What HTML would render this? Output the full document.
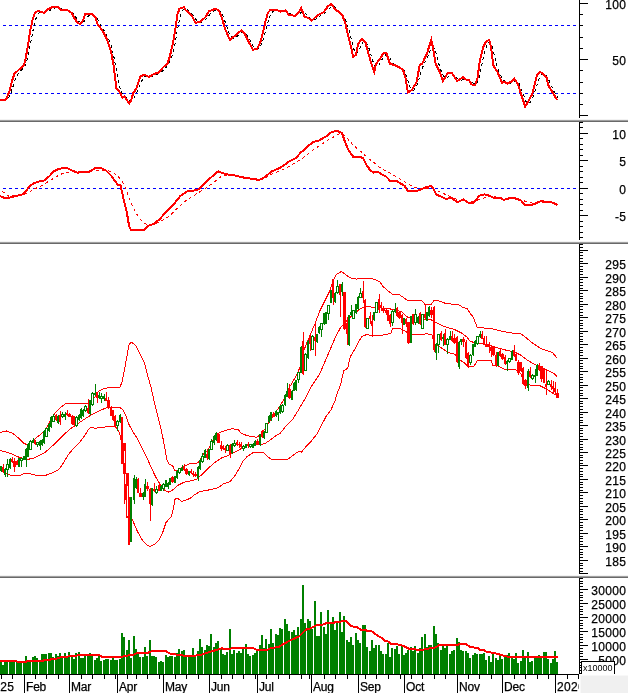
<!DOCTYPE html><html><head><meta charset="utf-8"><title>Chart</title><style>html,body{margin:0;padding:0;background:#fff;overflow:hidden}svg{display:block}</style></head><body><svg width="628" height="693" viewBox="0 0 628 693" shape-rendering="crispEdges" font-family="'Liberation Sans', Arial, sans-serif"><defs><clipPath id="cb"><rect x="0" y="675" width="579" height="18"/></clipPath></defs><rect width="628" height="693" fill="#fff"/><line x1="3" y1="25.5" x2="577" y2="25.5" stroke="#0000ff" stroke-width="1" stroke-dasharray="3 3"/>
<line x1="3" y1="93.5" x2="577" y2="93.5" stroke="#0000ff" stroke-width="1" stroke-dasharray="3 3"/>
<polyline points="3.4,100.2 5.7,100.2 8,98.7 10.3,94.7 12.6,87.8 14.8,80.7 17.1,75.2 19.4,71.8 21.7,69.8 24,67.6 26.3,62.7 28.6,54.1 30.9,41.6 33.2,29.5 35.5,19.8 37.8,14.3 40.1,12.1 42.3,12.2 44.6,12.7 46.9,12.2 49.2,10.9 51.5,9.2 53.8,8.2 56.1,7.7 58.4,7.7 60.7,8.5 63,9.5 65.3,10.2 67.6,10.5 69.8,11.2 72.1,12.5 74.4,15.1 76.7,18.4 79,21.5 81.3,23.1 83.6,22.1 85.9,19.1 88.2,16.2 90.5,14.8 92.8,14.9 95.1,15.8 97.3,19 99.6,23 101.9,27.3 104.2,30.8 106.5,34.6 108.8,39.5 111.1,45.5 113.4,54.2 115.7,66.7 118,79.4 120.3,88.9 122.5,94.1 124.8,96.4 127.1,98.8 129.4,100.6 131.7,101 134,98.2 136.3,93.4 138.6,88 140.9,82.7 143.2,78.3 145.5,76.1 147.8,76.1 150,76.5 152.3,76.4 154.6,75.5 156.9,74.4 159.2,73.4 161.5,71.9 163.8,69.8 166.1,67.4 168.4,64.6 170.7,60 173,52.8 175.3,42.4 177.5,29.5 179.8,18 182.1,10.7 184.4,8.7 186.7,9.5 189,11.1 191.3,13.6 193.6,16.3 195.9,19.6 198.2,21.8 200.5,22.6 202.8,21.5 205,20 207.3,17.5 209.6,14.6 211.9,12.1 214.2,10.6 216.5,10.1 218.8,10.2 221.1,12.4 223.4,17 225.7,23.5 228,30.1 230.2,35.6 232.5,38.1 234.8,38.2 237.1,36.4 239.4,34.4 241.7,32.7 244,32.5 246.3,34.1 248.6,37.8 250.9,42 253.2,46.2 255.5,48.8 257.7,49.3 260,47.1 262.3,42.3 264.6,34.9 266.9,26 269.2,18.1 271.5,13 273.8,10.9 276.1,10.4 278.4,10.6 280.7,11.2 283,11.6 285.2,11.5 287.5,12 289.8,13.3 292.1,14.9 294.4,15.8 296.7,15.7 299,14.5 301.3,12 303.6,12 305.9,13.8 308.2,17 310.5,18.7 312.7,19.6 315,19.5 317.3,18.1 319.6,16.2 321.9,14.6 324.2,13.4 326.5,11.4 328.8,9 331.1,6.6 333.4,6.1 335.7,7.5 338,9.8 340.2,11.9 342.5,13.9 344.8,17.5 347.1,23.5 349.4,31.9 351.7,41.1 354,49.5 356.3,53.6 358.6,51.4 360.9,46.1 363.2,41.7 365.4,41.3 367.7,44.8 370,51.3 372.3,59.4 374.6,65.9 376.9,67 379.2,64.7 381.5,60.1 383.8,56.9 386.1,54.6 388.4,55.5 390.7,59.1 392.9,63 395.2,65.1 397.5,66 399.8,67 402.1,68.4 404.4,71 406.7,76.8 409,84.3 411.3,89.6 413.6,90.2 415.9,87.4 418.2,81.8 420.4,74.2 422.7,67.3 425,62 427.3,58 429.6,52.2 431.9,47.2 434.2,48 436.5,54.7 438.8,63.8 441.1,70.8 443.4,75.8 445.7,78.1 447.9,77.2 450.2,74.8 452.5,73.9 454.8,75.4 457.1,78.1 459.4,79.9 461.7,80.1 464,79.1 466.3,79.1 468.6,79.8 470.9,81.5 473.1,83.1 475.4,84.5 477.7,82.3 480,74 482.3,62.8 484.6,52 486.9,45.8 489.2,42.3 491.5,44.4 493.8,52.7 496.1,62.7 498.4,70.5 500.6,74.9 502.9,79.2 505.2,81.9 507.5,83.3 509.8,83.3 512.1,82.8 514.4,81.3 516.7,81.2 519,83.4 521.3,88.7 523.6,95.2 525.9,101.2 528.1,103.5 530.4,102 532.7,97.5 535,91.4 537.3,83.8 539.6,77.3 541.9,73.9 544.2,74 546.5,75.7 548.8,80.1 551.1,85.1 553.4,90.5 555.6,94.3 557.9,97.7" fill="none" stroke="#000" stroke-width="1" stroke-dasharray="3 3"/>
<polyline points="0,99.5 5.6,100 7.2,97 9.5,90.8 12,81 14.3,74 19,69.6 23.9,65.3 25.5,59 27.9,46 30.3,30 32.6,20 35,12.4 38.2,10.8 42.2,12.4 44.6,12.7 47,9.9 51,7.6 55,6.8 58,7.3 61.3,9.9 66.9,9.9 71.7,13 74,17.5 77.2,22.3 80.4,24.2 82.8,20.7 85.2,14.3 92.4,14.3 95.5,17.5 97.4,23.9 102.2,30.3 106.9,39 110.9,51 113.3,63.7 114.9,76.4 116.5,88.4 120.5,93.2 122.4,98 124.5,96.3 129.2,103.5 130.8,101 133.2,93.2 136.4,88.4 140.4,76.4 144.4,74.8 149.1,76.9 153.9,74 158.7,72.5 163.5,66.9 167.5,63.7 169.8,56.5 173,43 175.4,28.7 177.5,14.3 179.4,8.8 183.9,7.2 185.8,10.4 190,13.5 192.4,17 195.6,22.8 200.4,21.5 205.1,17.5 209.1,11.1 215.5,8.8 218.7,10.4 221.8,17.5 225,28.7 229.8,39.8 233,37.4 237.8,33.4 241.3,30.3 244.9,34.2 248.9,42.2 252.9,49.7 256.9,49 260.1,43 263.2,31.8 265.6,20.7 268,12.7 270.4,10 276.8,9.9 280.8,11.6 285.5,10.4 289,14.8 295.4,15.9 298.5,12.7 301.2,8 304.4,16.7 308.1,17.8 311.8,20.7 317.6,15.1 324,11.9 328,6.1 331.5,4 335.2,9.6 339.1,11.9 342.6,15.9 345.5,23.9 348.7,38.2 351.6,49.4 353.2,56.8 355.9,54.9 358.2,43.8 362.2,38.7 365.4,42.2 368.6,54.1 371.8,65.3 374.2,72 376.1,63.7 380.5,58.1 383.5,52.9 386.4,53 389.9,63.7 395.1,65.3 399.1,67.2 403.1,70.1 405.5,78 407.9,92.4 411.8,90 416.6,82 419.8,64.5 422.2,63.7 427,53.3 431.3,39.8 433.3,49.4 435.7,63.7 439.7,71.7 442.9,81.2 447.7,73.2 451.7,72.9 457.2,81.2 462.8,77.2 466,79.6 468.9,80.1 471.6,84.4 475.2,84.9 477.5,78.5 479.8,60.5 483,47.8 486.1,41.4 489.3,39.8 490.9,46.2 493.3,65.3 497.3,71.7 502.1,82.8 504.5,82 507.6,83.6 511.6,81.5 514.5,78.8 518,84.4 522,97.1 525.2,106.7 527.5,102.7 532.3,93.9 534.7,84.4 537.1,74.8 540.3,72 543.5,74 546.7,78 548.2,85.2 553,93.2 557,100" fill="none" stroke="#ff0000" stroke-width="2"/>
<line x1="3" y1="188.5" x2="577" y2="188.5" stroke="#0000ff" stroke-width="1" stroke-dasharray="3 3"/>
<polyline points="2,191 8.5,196.1 17,195.8 27.3,193.6 34,189.3 40.9,185.9 51.1,179.9 57.9,175.7 64.7,172.6 72,171.5 80,172 88,172 95,170.2 101.8,170.2 112,171.4 118.9,177.4 122.3,181.6 125.7,188.4 130.8,202 135.9,213.1 141,220 146.1,224.2 152.9,224.7 161.4,220.8 170,215.7 178.5,207.2 187,199.5 190,197.8 198.5,192.7 207,187.6 215.6,180.8 222.4,175.7 229.2,174.8 238,176 247,177.5 256,179 263.3,179.1 271.8,174 280.3,170.6 285,168.8 293.5,163.7 302,158.6 310.6,151.8 319.1,145.9 327.6,140.4 336.1,135.6 341.2,133.1 346.3,137.3 353.1,145 361.7,152.3 368.5,158.6 375.3,163.7 380,167.7 386.8,171.4 397,176.9 405.6,182.5 414.1,187.2 422.6,188.8 431.1,188.1 439.6,191.8 448.1,195.6 456.7,199.5 465.2,200.7 472,202.1 480,199.5 484,198 490,196.3 496,197 505,198.5 515,199 522,200 528,202.5 535,203.5 542,202.5 550,202 557,203.5" fill="none" stroke="#ff0000" stroke-width="1" stroke-dasharray="3 3"/>
<polyline points="0,196.1 3.4,197.5 10.2,197.5 15.3,196.1 22.1,194.4 25.6,191.8 29.8,185.9 34.1,183 40,181.3 44.3,180.4 49.4,176.2 53.7,171.4 58.8,168.8 64.7,168 68.1,168.5 72.4,170.6 77.5,172.6 83.5,172.3 90.3,171.4 94.5,168.5 101,168 106.1,170.6 111.2,175.7 115.4,181.6 118,185 120.6,185.4 123.1,197 126.5,210.6 129.1,225.9 130.8,229.7 144.4,229.7 147.8,225.9 153.8,223.9 159.7,219.1 166.6,211.4 173.4,204.6 180.2,196.1 187,191.5 192.6,191 198.5,189.3 205.3,182.5 212.1,176.5 218.1,171.4 225.8,174.3 234.3,175.3 242.8,177.4 251.3,178.7 259,179.9 263.3,178.2 271.8,171.4 280.3,167.7 285,164.6 289.3,161.2 296.1,158.1 301.2,151.8 303.7,150.6 308,145.9 313.1,142.1 319.1,140.4 326.7,136 331.8,131.9 337,130.9 342.1,133.1 344.6,140.7 348,149.3 353.1,156.6 360.8,156.9 363.4,158.6 366.8,165.4 370.2,170.2 373.6,172.6 377.8,171.9 382.1,174.5 386,176.5 390.2,180.8 397,181.3 404.7,185.9 408.1,191.5 417.5,190.7 425.1,187.6 430.8,185.9 432.8,187.6 436.2,194.4 445.6,198.7 451.6,198.1 457.5,202.1 463.5,199.5 468.6,202.9 472.8,202.9 477.1,198.7 479.3,195.6 484.4,194.4 489.5,195.6 493.7,197.8 500.6,198.1 504,199.9 509.9,198.1 515,198.3 521,200.4 524.4,204.6 532.9,204.6 540.6,201.2 550.8,202.1 557.6,205" fill="none" stroke="#ff0000" stroke-width="2"/>
<polyline points="0,432.4 6.4,431 12.7,433.4 19.1,438.5 23.9,443.2 27,444.8 29.5,443.5 32,441 35,438.8 41.4,433.7 46.2,428.9 51,419.4 54.9,413 60.5,407.4 66.1,403.4 74.8,403.8 87.6,403.1 92.4,400.3 95.5,396.3 98.2,391.5 104.6,388.3 112.5,387.2 119.7,387.5 122.1,382 125.3,365.3 127.6,352.5 129.2,343.8 131.6,342.2 135.6,345.4 139.6,353.3 144.4,362.9 147.5,374.8 150.7,386 153.9,400.3 157.1,413 160.3,425.8 162.7,436.9 165.1,449.6 166.7,459.1 169,463.9 173,466.3 174.6,470.5 177,471 180,468.5 184.2,466.3 188.9,463.9 194.8,463.5 198,462.7 200.5,459 203.5,454 207,451 210,446.5 213,440 216,434.5 218.7,433.2 225,430.4 231.4,428.9 237.8,429.2 241,432.9 245.7,435.1 252.1,436.7 256.9,437.2 260.1,434.8 264.8,429.2 269.6,421.3 274.4,414.1 279.2,406.9 283.9,399.8 288,389.8 295.9,376.3 299.9,367.5 302.3,355.5 305.5,346 310.3,334.8 315,323.7 319.8,311 324.6,301.4 329.4,291.8 333.3,280.7 336.5,274.3 341.3,271.5 345.3,274.3 350.1,277.8 356.4,279.1 366,278.3 373.9,279.1 379.8,281.7 383,286.5 387.7,290.5 392.5,294.5 398.9,294.5 403.7,297.6 407.6,300.4 414.8,300 421.2,300.4 425.2,304.5 430.7,304.8 433.9,300.8 438.7,300.8 445.1,303.2 451.4,304 457.8,304 462.6,307.2 467.4,308.8 470,313.1 473.5,317.5 477,327.1 484,328 492.8,328.9 501.5,331.2 510.3,332.9 520.8,333.6 526.1,337.7 531.3,342 536.6,345.9 541.8,349 547.1,350.8 552.3,352.5 556.7,357.5" fill="none" stroke="#ff0000" stroke-width="1"/>
<polyline points="0,450.4 6.4,452 12.7,454.4 19.1,457.3 25.5,459.2 31.8,458.9 38.2,456 44.6,452.8 51,447.2 57.3,441.4 63.7,434.9 70.1,428.8 76.4,424.9 82.8,420.2 89.2,416.2 95,413 101.4,409.8 107.7,407.5 119.7,407.5 122.9,409.8 126.1,416.2 129.2,425 133.2,432.1 137.2,438.5 141.2,446.4 146,455.9 150.7,466.3 155.5,476.6 160.3,484.6 165.1,490.6 169,492.2 173,489.7 177.8,485.4 184.2,482.2 190,481 196.4,479.4 202.7,473.8 209.1,467.5 215.5,461.9 221.8,457.9 228.2,455.5 234.6,452.3 241,448.8 247.3,446 253.7,444.7 260.1,444.7 264.8,443.6 269.6,440.4 276,435.6 280,433.6 286.4,425.6 292.7,419.3 299.1,408.9 305.5,397.8 311.8,385.8 318.2,376.3 321.4,370 326.2,358.7 331,347.6 335.7,336.4 340.5,327.7 345.3,322.1 350.1,317.3 354.8,313.3 359.6,309.4 364.4,306.7 370.8,307 375.5,307.5 380,307.8 388,308.5 393,309.5 397.3,310.4 402.1,312 406.8,316.8 412,318.5 422.8,319.1 430.7,319.6 435.5,322.3 441.9,325.5 448.2,327.9 454.6,329.5 461,332.7 467.4,337.5 470,341.2 475.3,342.9 480.5,343.4 487.5,344.7 496.3,347.6 505,349.9 513.8,351.7 520.8,355.2 527.8,360.4 534.8,364.5 541.8,367.4 548.8,370.9 554.1,373.6 557.1,376.5" fill="none" stroke="#ff0000" stroke-width="1"/>
<polyline points="0,469 3,472 7.2,474.3 12.7,475.6 19.1,475.9 23.9,473.5 28.7,473.2 33.4,474.8 39.8,475.9 46.2,475.1 52.5,472.7 58.9,469.5 63.7,462.4 68.5,454.4 73.2,448.8 79.6,442.5 84.4,436.1 88.4,429.7 90.8,427 95,428.2 103,427.4 110.9,426.1 114.9,426.6 117.3,429 119.5,433 121,440 122.5,455 124,472 125.5,490 126.8,516.4 132.4,519.6 136.4,529.2 141.2,538.7 146,544.3 149.9,546.4 154.7,544.3 159.5,539.5 162.7,532.4 165.9,522.8 169,518.8 171.4,516.4 173.8,506.9 174.6,499.7 177,498.1 181.8,501.3 186.6,499.7 190,498.5 194.8,494.5 199.6,491.8 205.9,490.5 212.3,489.3 218.7,487.4 223.4,483.9 229.8,481.8 234.6,476.2 239.4,468.2 242.5,461.9 247.3,456.3 253.7,452.3 263.2,452.3 268,457.1 272.8,460 279.2,459.5 288,459.1 294.3,454.3 299.1,451.1 301.5,452.2 305.5,447.1 310.3,442.4 316.6,434.4 321.4,425.6 326.2,416.1 331,409.7 334.9,401 337.3,393 340.5,385 343.7,370.7 347.7,368.3 350.1,357.2 354.8,349.2 358.8,341.2 362,336.4 366.8,334.5 372.4,335.6 381.4,335.4 386.1,334.3 390.9,333.5 392.5,329 395.7,328.4 400.5,328.7 403.7,330.3 408,333 413.2,334.3 421.2,334.3 427.5,333.8 432.3,335.1 433.9,344.6 438.7,346.2 443.5,349.4 448.2,352.6 454.6,354.2 459.4,359.7 464.2,362.9 468.2,366.9 472.1,366.9 474.4,365.7 477,361 484,360.4 491,360.3 493.2,365.9 497.6,365.9 505,369.6 516,369.8 520.8,373.6 524.3,383.2 529.6,385 540.1,385.8 547.1,389.3 552.3,392.8 556.7,395.5" fill="none" stroke="#ff0000" stroke-width="1"/>
<g><rect x="1" y="466" width="1" height="6" fill="#008000"/><rect x="0" y="466" width="2" height="5" fill="#008000"/><rect x="3" y="464" width="1" height="9" fill="#ff0000"/><rect x="2" y="467" width="2" height="5" fill="#ff0000"/><rect x="5" y="468" width="1" height="9" fill="#008000"/><rect x="4" y="469" width="2" height="6" fill="#008000"/><rect x="7" y="459" width="1" height="18" fill="#008000"/><rect x="6" y="464" width="3" height="6" fill="#008000"/><rect x="7" y="465" width="1" height="4" fill="#fff"/><rect x="10" y="458" width="1" height="11" fill="#008000"/><rect x="9" y="459" width="2" height="9" fill="#008000"/><rect x="12" y="457" width="1" height="6" fill="#ff0000"/><rect x="11" y="459" width="2" height="3" fill="#ff0000"/><rect x="14" y="458" width="1" height="14" fill="#ff0000"/><rect x="13" y="461" width="3" height="6" fill="#ff0000"/><rect x="17" y="460" width="1" height="5" fill="#ff0000"/><rect x="16" y="461" width="2" height="4" fill="#ff0000"/><rect x="19" y="458" width="1" height="9" fill="#008000"/><rect x="18" y="458" width="2" height="9" fill="#008000"/><rect x="21" y="458" width="1" height="9" fill="#008000"/><rect x="20" y="458" width="3" height="3" fill="#008000"/><rect x="21" y="459" width="1" height="1" fill="#fff"/><rect x="24" y="456" width="1" height="4" fill="#008000"/><rect x="23" y="456" width="2" height="4" fill="#008000"/><rect x="26" y="448" width="1" height="19" fill="#008000"/><rect x="25" y="449" width="2" height="11" fill="#008000"/><rect x="28" y="443" width="1" height="14" fill="#008000"/><rect x="27" y="444" width="2" height="13" fill="#008000"/><rect x="30" y="440" width="1" height="10" fill="#008000"/><rect x="29" y="441" width="3" height="9" fill="#008000"/><rect x="30" y="442" width="1" height="7" fill="#fff"/><rect x="33" y="438" width="1" height="5" fill="#008000"/><rect x="32" y="440" width="2" height="3" fill="#008000"/><rect x="35" y="440" width="1" height="5" fill="#ff0000"/><rect x="34" y="440" width="2" height="4" fill="#ff0000"/><rect x="37" y="442" width="1" height="5" fill="#008000"/><rect x="36" y="442" width="3" height="3" fill="#008000"/><rect x="37" y="443" width="1" height="1" fill="#fff"/><rect x="40" y="440" width="1" height="10" fill="#008000"/><rect x="39" y="441" width="2" height="5" fill="#008000"/><rect x="42" y="439" width="1" height="7" fill="#008000"/><rect x="41" y="440" width="2" height="5" fill="#008000"/><rect x="44" y="430" width="1" height="14" fill="#008000"/><rect x="43" y="431" width="2" height="12" fill="#008000"/><rect x="46" y="428" width="1" height="9" fill="#008000"/><rect x="45" y="428" width="3" height="9" fill="#008000"/><rect x="46" y="429" width="1" height="7" fill="#fff"/><rect x="49" y="423" width="1" height="9" fill="#008000"/><rect x="48" y="424" width="2" height="7" fill="#008000"/><rect x="51" y="416" width="1" height="12" fill="#008000"/><rect x="50" y="417" width="2" height="10" fill="#008000"/><rect x="53" y="414" width="1" height="8" fill="#008000"/><rect x="52" y="416" width="3" height="6" fill="#008000"/><rect x="53" y="417" width="1" height="4" fill="#fff"/><rect x="56" y="414" width="1" height="7" fill="#ff0000"/><rect x="55" y="415" width="2" height="5" fill="#ff0000"/><rect x="58" y="415" width="1" height="9" fill="#008000"/><rect x="57" y="416" width="2" height="7" fill="#008000"/><rect x="60" y="411" width="1" height="14" fill="#ff0000"/><rect x="59" y="415" width="2" height="7" fill="#ff0000"/><rect x="62" y="412" width="1" height="6" fill="#008000"/><rect x="61" y="414" width="3" height="3" fill="#008000"/><rect x="62" y="415" width="1" height="1" fill="#fff"/><rect x="65" y="412" width="1" height="8" fill="#008000"/><rect x="64" y="414" width="2" height="3" fill="#008000"/><rect x="67" y="410" width="1" height="6" fill="#ff0000"/><rect x="66" y="413" width="2" height="2" fill="#ff0000"/><rect x="69" y="413" width="1" height="4" fill="#ff0000"/><rect x="68" y="414" width="3" height="3" fill="#ff0000"/><rect x="72" y="415" width="1" height="10" fill="#ff0000"/><rect x="71" y="416" width="2" height="8" fill="#ff0000"/><rect x="74" y="416" width="1" height="9" fill="#ff0000"/><rect x="73" y="416" width="2" height="9" fill="#ff0000"/><rect x="76" y="416" width="1" height="11" fill="#008000"/><rect x="75" y="417" width="3" height="9" fill="#008000"/><rect x="76" y="418" width="1" height="7" fill="#fff"/><rect x="79" y="414" width="1" height="7" fill="#008000"/><rect x="78" y="415" width="2" height="5" fill="#008000"/><rect x="81" y="408" width="1" height="11" fill="#008000"/><rect x="80" y="409" width="2" height="9" fill="#008000"/><rect x="83" y="409" width="1" height="8" fill="#008000"/><rect x="82" y="410" width="2" height="6" fill="#008000"/><rect x="85" y="405" width="1" height="7" fill="#008000"/><rect x="84" y="406" width="3" height="5" fill="#008000"/><rect x="85" y="407" width="1" height="3" fill="#fff"/><rect x="88" y="399" width="1" height="15" fill="#ff0000"/><rect x="87" y="408" width="2" height="5" fill="#ff0000"/><rect x="90" y="400" width="1" height="15" fill="#008000"/><rect x="89" y="400" width="2" height="14" fill="#008000"/><rect x="92" y="392" width="1" height="14" fill="#008000"/><rect x="91" y="393" width="3" height="12" fill="#008000"/><rect x="92" y="394" width="1" height="10" fill="#fff"/><rect x="95" y="384" width="1" height="12" fill="#008000"/><rect x="94" y="393" width="2" height="2" fill="#008000"/><rect x="97" y="392" width="1" height="11" fill="#ff0000"/><rect x="96" y="392" width="2" height="6" fill="#ff0000"/><rect x="99" y="392" width="1" height="7" fill="#008000"/><rect x="98" y="395" width="2" height="3" fill="#008000"/><rect x="101" y="393" width="1" height="10" fill="#008000"/><rect x="100" y="396" width="3" height="3" fill="#008000"/><rect x="101" y="397" width="1" height="1" fill="#fff"/><rect x="104" y="394" width="1" height="7" fill="#008000"/><rect x="103" y="396" width="2" height="3" fill="#008000"/><rect x="106" y="392" width="1" height="9" fill="#ff0000"/><rect x="105" y="398" width="2" height="3" fill="#ff0000"/><rect x="108" y="397" width="1" height="12" fill="#ff0000"/><rect x="107" y="400" width="3" height="8" fill="#ff0000"/><rect x="111" y="406" width="1" height="10" fill="#ff0000"/><rect x="110" y="407" width="2" height="9" fill="#ff0000"/><rect x="113" y="410" width="1" height="11" fill="#ff0000"/><rect x="112" y="410" width="2" height="10" fill="#ff0000"/><rect x="115" y="415" width="1" height="12" fill="#ff0000"/><rect x="114" y="416" width="2" height="10" fill="#ff0000"/><rect x="117" y="420" width="1" height="11" fill="#008000"/><rect x="116" y="421" width="3" height="5" fill="#008000"/><rect x="117" y="422" width="1" height="3" fill="#fff"/><rect x="120" y="414" width="1" height="9" fill="#008000"/><rect x="119" y="415" width="2" height="7" fill="#008000"/><rect x="134" y="475" width="1" height="29" fill="#008000"/><rect x="133" y="478" width="2" height="22" fill="#008000"/><rect x="136" y="477" width="1" height="12" fill="#008000"/><rect x="135" y="479" width="2" height="9" fill="#008000"/><rect x="138" y="478" width="1" height="15" fill="#ff0000"/><rect x="137" y="479" width="2" height="14" fill="#ff0000"/><rect x="140" y="488" width="1" height="9" fill="#ff0000"/><rect x="139" y="493" width="3" height="4" fill="#ff0000"/><rect x="143" y="492" width="1" height="8" fill="#008000"/><rect x="142" y="493" width="2" height="4" fill="#008000"/><rect x="145" y="479" width="1" height="18" fill="#008000"/><rect x="144" y="484" width="2" height="13" fill="#008000"/><rect x="147" y="482" width="1" height="9" fill="#ff0000"/><rect x="146" y="486" width="3" height="3" fill="#ff0000"/><rect x="150" y="488" width="1" height="33" fill="#ff0000"/><rect x="149" y="489" width="2" height="15" fill="#ff0000"/><rect x="152" y="488" width="1" height="18" fill="#008000"/><rect x="151" y="488" width="2" height="17" fill="#008000"/><rect x="154" y="483" width="1" height="9" fill="#ff0000"/><rect x="153" y="489" width="2" height="2" fill="#ff0000"/><rect x="156" y="486" width="1" height="8" fill="#008000"/><rect x="155" y="489" width="3" height="4" fill="#008000"/><rect x="156" y="490" width="1" height="2" fill="#fff"/><rect x="159" y="484" width="1" height="7" fill="#ff0000"/><rect x="158" y="485" width="2" height="6" fill="#ff0000"/><rect x="161" y="485" width="1" height="6" fill="#008000"/><rect x="160" y="486" width="2" height="5" fill="#008000"/><rect x="163" y="483" width="1" height="8" fill="#008000"/><rect x="162" y="484" width="3" height="5" fill="#008000"/><rect x="163" y="485" width="1" height="3" fill="#fff"/><rect x="166" y="480" width="1" height="7" fill="#008000"/><rect x="165" y="480" width="2" height="7" fill="#008000"/><rect x="168" y="482" width="1" height="7" fill="#008000"/><rect x="167" y="483" width="2" height="4" fill="#008000"/><rect x="170" y="478" width="1" height="7" fill="#008000"/><rect x="169" y="478" width="2" height="7" fill="#008000"/><rect x="172" y="476" width="1" height="7" fill="#ff0000"/><rect x="171" y="477" width="3" height="5" fill="#ff0000"/><rect x="175" y="476" width="1" height="7" fill="#008000"/><rect x="174" y="476" width="2" height="7" fill="#008000"/><rect x="177" y="470" width="1" height="9" fill="#008000"/><rect x="176" y="471" width="2" height="7" fill="#008000"/><rect x="179" y="468" width="1" height="6" fill="#008000"/><rect x="178" y="468" width="3" height="5" fill="#008000"/><rect x="179" y="469" width="1" height="3" fill="#fff"/><rect x="182" y="465" width="1" height="6" fill="#008000"/><rect x="181" y="468" width="2" height="3" fill="#008000"/><rect x="184" y="464" width="1" height="7" fill="#ff0000"/><rect x="183" y="467" width="2" height="3" fill="#ff0000"/><rect x="186" y="468" width="1" height="7" fill="#ff0000"/><rect x="185" y="469" width="3" height="5" fill="#ff0000"/><rect x="189" y="471" width="1" height="5" fill="#008000"/><rect x="188" y="471" width="2" height="4" fill="#008000"/><rect x="191" y="469" width="1" height="5" fill="#ff0000"/><rect x="190" y="471" width="2" height="2" fill="#ff0000"/><rect x="193" y="471" width="1" height="6" fill="#ff0000"/><rect x="192" y="473" width="2" height="2" fill="#ff0000"/><rect x="195" y="472" width="1" height="5" fill="#ff0000"/><rect x="194" y="474" width="3" height="2" fill="#ff0000"/><rect x="198" y="466" width="1" height="15" fill="#008000"/><rect x="197" y="467" width="2" height="11" fill="#008000"/><rect x="200" y="459" width="1" height="11" fill="#008000"/><rect x="199" y="460" width="2" height="9" fill="#008000"/><rect x="202" y="453" width="1" height="10" fill="#008000"/><rect x="201" y="456" width="3" height="6" fill="#008000"/><rect x="202" y="457" width="1" height="4" fill="#fff"/><rect x="205" y="449" width="1" height="9" fill="#008000"/><rect x="204" y="450" width="2" height="8" fill="#008000"/><rect x="207" y="451" width="1" height="9" fill="#ff0000"/><rect x="206" y="454" width="2" height="4" fill="#ff0000"/><rect x="209" y="449" width="1" height="11" fill="#008000"/><rect x="208" y="449" width="2" height="10" fill="#008000"/><rect x="211" y="439" width="1" height="11" fill="#008000"/><rect x="210" y="441" width="3" height="9" fill="#008000"/><rect x="211" y="442" width="1" height="7" fill="#fff"/><rect x="214" y="435" width="1" height="10" fill="#008000"/><rect x="213" y="436" width="2" height="7" fill="#008000"/><rect x="216" y="432" width="1" height="9" fill="#008000"/><rect x="215" y="433" width="2" height="7" fill="#008000"/><rect x="218" y="434" width="1" height="9" fill="#ff0000"/><rect x="217" y="434" width="3" height="9" fill="#ff0000"/><rect x="221" y="441" width="1" height="10" fill="#ff0000"/><rect x="220" y="445" width="2" height="4" fill="#ff0000"/><rect x="223" y="445" width="1" height="5" fill="#ff0000"/><rect x="222" y="446" width="2" height="3" fill="#ff0000"/><rect x="225" y="446" width="1" height="7" fill="#ff0000"/><rect x="224" y="448" width="2" height="2" fill="#ff0000"/><rect x="227" y="444" width="1" height="7" fill="#008000"/><rect x="226" y="445" width="3" height="6" fill="#008000"/><rect x="227" y="446" width="1" height="4" fill="#fff"/><rect x="230" y="444" width="1" height="14" fill="#ff0000"/><rect x="229" y="445" width="2" height="9" fill="#ff0000"/><rect x="232" y="443" width="1" height="11" fill="#008000"/><rect x="231" y="444" width="2" height="9" fill="#008000"/><rect x="234" y="440" width="1" height="7" fill="#008000"/><rect x="233" y="443" width="3" height="3" fill="#008000"/><rect x="234" y="444" width="1" height="1" fill="#fff"/><rect x="237" y="440" width="1" height="6" fill="#ff0000"/><rect x="236" y="442" width="2" height="3" fill="#ff0000"/><rect x="239" y="442" width="1" height="6" fill="#ff0000"/><rect x="238" y="444" width="2" height="1" fill="#ff0000"/><rect x="241" y="442" width="1" height="7" fill="#ff0000"/><rect x="240" y="444" width="2" height="3" fill="#ff0000"/><rect x="243" y="445" width="1" height="6" fill="#008000"/><rect x="242" y="446" width="3" height="3" fill="#008000"/><rect x="243" y="447" width="1" height="1" fill="#fff"/><rect x="246" y="444" width="1" height="4" fill="#008000"/><rect x="245" y="444" width="2" height="4" fill="#008000"/><rect x="248" y="442" width="1" height="6" fill="#ff0000"/><rect x="247" y="444" width="2" height="2" fill="#ff0000"/><rect x="250" y="444" width="1" height="4" fill="#008000"/><rect x="249" y="444" width="3" height="3" fill="#008000"/><rect x="250" y="445" width="1" height="1" fill="#fff"/><rect x="253" y="443" width="1" height="5" fill="#008000"/><rect x="252" y="444" width="2" height="4" fill="#008000"/><rect x="255" y="440" width="1" height="6" fill="#008000"/><rect x="254" y="441" width="2" height="5" fill="#008000"/><rect x="257" y="439" width="1" height="6" fill="#ff0000"/><rect x="256" y="441" width="3" height="3" fill="#ff0000"/><rect x="260" y="434" width="1" height="12" fill="#008000"/><rect x="259" y="434" width="2" height="11" fill="#008000"/><rect x="262" y="430" width="1" height="8" fill="#ff0000"/><rect x="261" y="431" width="2" height="6" fill="#ff0000"/><rect x="264" y="431" width="1" height="8" fill="#008000"/><rect x="263" y="432" width="2" height="6" fill="#008000"/><rect x="266" y="423" width="1" height="10" fill="#008000"/><rect x="265" y="423" width="3" height="10" fill="#008000"/><rect x="266" y="424" width="1" height="8" fill="#fff"/><rect x="269" y="415" width="1" height="8" fill="#008000"/><rect x="268" y="416" width="2" height="6" fill="#008000"/><rect x="271" y="412" width="1" height="9" fill="#008000"/><rect x="270" y="412" width="2" height="8" fill="#008000"/><rect x="273" y="412" width="1" height="5" fill="#ff0000"/><rect x="272" y="414" width="3" height="3" fill="#ff0000"/><rect x="276" y="410" width="1" height="7" fill="#008000"/><rect x="275" y="411" width="2" height="5" fill="#008000"/><rect x="278" y="412" width="1" height="9" fill="#008000"/><rect x="277" y="412" width="2" height="3" fill="#008000"/><rect x="280" y="405" width="1" height="9" fill="#008000"/><rect x="279" y="406" width="2" height="7" fill="#008000"/><rect x="282" y="404" width="1" height="9" fill="#008000"/><rect x="281" y="405" width="3" height="7" fill="#008000"/><rect x="282" y="406" width="1" height="5" fill="#fff"/><rect x="285" y="394" width="1" height="12" fill="#008000"/><rect x="284" y="395" width="2" height="10" fill="#008000"/><rect x="287" y="383" width="1" height="14" fill="#008000"/><rect x="286" y="391" width="2" height="6" fill="#008000"/><rect x="289" y="384" width="1" height="15" fill="#ff0000"/><rect x="288" y="389" width="3" height="9" fill="#ff0000"/><rect x="292" y="390" width="1" height="10" fill="#008000"/><rect x="291" y="391" width="2" height="9" fill="#008000"/><rect x="294" y="382" width="1" height="9" fill="#008000"/><rect x="293" y="383" width="2" height="8" fill="#008000"/><rect x="296" y="380" width="1" height="11" fill="#008000"/><rect x="295" y="380" width="2" height="10" fill="#008000"/><rect x="298" y="372" width="1" height="11" fill="#008000"/><rect x="297" y="372" width="3" height="8" fill="#008000"/><rect x="298" y="373" width="1" height="6" fill="#fff"/><rect x="301" y="346" width="1" height="27" fill="#008000"/><rect x="300" y="347" width="2" height="26" fill="#008000"/><rect x="303" y="332" width="1" height="43" fill="#ff0000"/><rect x="302" y="341" width="2" height="33" fill="#ff0000"/><rect x="305" y="353" width="1" height="18" fill="#008000"/><rect x="304" y="354" width="3" height="17" fill="#008000"/><rect x="305" y="355" width="1" height="15" fill="#fff"/><rect x="308" y="340" width="1" height="19" fill="#008000"/><rect x="307" y="341" width="2" height="17" fill="#008000"/><rect x="310" y="336" width="1" height="15" fill="#ff0000"/><rect x="309" y="336" width="2" height="8" fill="#ff0000"/><rect x="312" y="335" width="1" height="15" fill="#008000"/><rect x="311" y="336" width="3" height="14" fill="#008000"/><rect x="312" y="337" width="1" height="12" fill="#fff"/><rect x="315" y="323" width="1" height="33" fill="#ff0000"/><rect x="314" y="337" width="2" height="4" fill="#ff0000"/><rect x="317" y="334" width="1" height="9" fill="#008000"/><rect x="316" y="334" width="2" height="8" fill="#008000"/><rect x="319" y="326" width="1" height="8" fill="#008000"/><rect x="318" y="327" width="2" height="6" fill="#008000"/><rect x="321" y="323" width="1" height="14" fill="#008000"/><rect x="320" y="323" width="3" height="7" fill="#008000"/><rect x="321" y="324" width="1" height="5" fill="#fff"/><rect x="324" y="313" width="1" height="12" fill="#008000"/><rect x="323" y="313" width="2" height="11" fill="#008000"/><rect x="326" y="312" width="1" height="12" fill="#008000"/><rect x="325" y="312" width="2" height="12" fill="#008000"/><rect x="328" y="305" width="1" height="15" fill="#008000"/><rect x="327" y="305" width="3" height="9" fill="#008000"/><rect x="328" y="306" width="1" height="7" fill="#fff"/><rect x="331" y="290" width="1" height="13" fill="#008000"/><rect x="330" y="290" width="2" height="13" fill="#008000"/><rect x="333" y="279" width="1" height="26" fill="#ff0000"/><rect x="332" y="279" width="2" height="19" fill="#ff0000"/><rect x="335" y="292" width="1" height="11" fill="#008000"/><rect x="334" y="293" width="2" height="9" fill="#008000"/><rect x="337" y="280" width="1" height="14" fill="#008000"/><rect x="336" y="286" width="3" height="7" fill="#008000"/><rect x="337" y="287" width="1" height="5" fill="#fff"/><rect x="340" y="284" width="1" height="33" fill="#ff0000"/><rect x="339" y="284" width="2" height="11" fill="#ff0000"/><rect x="342" y="282" width="1" height="14" fill="#008000"/><rect x="341" y="284" width="2" height="8" fill="#008000"/><rect x="344" y="292" width="1" height="38" fill="#ff0000"/><rect x="343" y="292" width="3" height="37" fill="#ff0000"/><rect x="347" y="317" width="1" height="28" fill="#ff0000"/><rect x="346" y="323" width="2" height="11" fill="#ff0000"/><rect x="349" y="315" width="1" height="31" fill="#008000"/><rect x="348" y="315" width="2" height="30" fill="#008000"/><rect x="351" y="305" width="1" height="11" fill="#008000"/><rect x="350" y="312" width="2" height="3" fill="#008000"/><rect x="353" y="310" width="1" height="9" fill="#008000"/><rect x="352" y="310" width="3" height="9" fill="#008000"/><rect x="353" y="311" width="1" height="7" fill="#fff"/><rect x="356" y="304" width="1" height="10" fill="#008000"/><rect x="355" y="304" width="2" height="9" fill="#008000"/><rect x="358" y="296" width="1" height="14" fill="#008000"/><rect x="357" y="297" width="2" height="12" fill="#008000"/><rect x="360" y="288" width="1" height="10" fill="#008000"/><rect x="359" y="293" width="3" height="5" fill="#008000"/><rect x="360" y="294" width="1" height="3" fill="#fff"/><rect x="363" y="281" width="1" height="22" fill="#ff0000"/><rect x="362" y="291" width="2" height="7" fill="#ff0000"/><rect x="365" y="299" width="1" height="29" fill="#ff0000"/><rect x="364" y="300" width="2" height="27" fill="#ff0000"/><rect x="367" y="318" width="1" height="11" fill="#008000"/><rect x="366" y="318" width="3" height="11" fill="#008000"/><rect x="367" y="319" width="1" height="9" fill="#fff"/><rect x="370" y="312" width="1" height="12" fill="#ff0000"/><rect x="369" y="316" width="2" height="3" fill="#ff0000"/><rect x="372" y="315" width="1" height="22" fill="#ff0000"/><rect x="371" y="321" width="2" height="5" fill="#ff0000"/><rect x="374" y="312" width="1" height="9" fill="#008000"/><rect x="373" y="312" width="2" height="8" fill="#008000"/><rect x="376" y="302" width="1" height="11" fill="#008000"/><rect x="375" y="302" width="3" height="11" fill="#008000"/><rect x="376" y="303" width="1" height="9" fill="#fff"/><rect x="379" y="294" width="1" height="19" fill="#ff0000"/><rect x="378" y="299" width="2" height="11" fill="#ff0000"/><rect x="381" y="302" width="1" height="9" fill="#ff0000"/><rect x="380" y="305" width="2" height="3" fill="#ff0000"/><rect x="383" y="306" width="1" height="7" fill="#ff0000"/><rect x="382" y="308" width="3" height="3" fill="#ff0000"/><rect x="386" y="308" width="1" height="7" fill="#ff0000"/><rect x="385" y="310" width="2" height="3" fill="#ff0000"/><rect x="388" y="310" width="1" height="11" fill="#ff0000"/><rect x="387" y="310" width="2" height="11" fill="#ff0000"/><rect x="390" y="314" width="1" height="13" fill="#ff0000"/><rect x="389" y="315" width="2" height="9" fill="#ff0000"/><rect x="392" y="310" width="1" height="16" fill="#008000"/><rect x="391" y="311" width="3" height="12" fill="#008000"/><rect x="392" y="312" width="1" height="10" fill="#fff"/><rect x="395" y="303" width="1" height="10" fill="#008000"/><rect x="394" y="309" width="2" height="3" fill="#008000"/><rect x="397" y="307" width="1" height="10" fill="#ff0000"/><rect x="396" y="308" width="2" height="8" fill="#ff0000"/><rect x="399" y="311" width="1" height="8" fill="#ff0000"/><rect x="398" y="312" width="3" height="6" fill="#ff0000"/><rect x="402" y="314" width="1" height="20" fill="#ff0000"/><rect x="401" y="315" width="2" height="8" fill="#ff0000"/><rect x="404" y="318" width="1" height="7" fill="#008000"/><rect x="403" y="318" width="2" height="7" fill="#008000"/><rect x="406" y="318" width="1" height="9" fill="#ff0000"/><rect x="405" y="319" width="2" height="5" fill="#ff0000"/><rect x="408" y="322" width="1" height="22" fill="#ff0000"/><rect x="407" y="322" width="3" height="21" fill="#ff0000"/><rect x="411" y="316" width="1" height="27" fill="#008000"/><rect x="410" y="316" width="2" height="27" fill="#008000"/><rect x="413" y="314" width="1" height="11" fill="#ff0000"/><rect x="412" y="314" width="2" height="10" fill="#ff0000"/><rect x="415" y="309" width="1" height="16" fill="#008000"/><rect x="414" y="314" width="3" height="9" fill="#008000"/><rect x="415" y="315" width="1" height="7" fill="#fff"/><rect x="418" y="316" width="1" height="8" fill="#008000"/><rect x="417" y="317" width="2" height="6" fill="#008000"/><rect x="420" y="312" width="1" height="13" fill="#ff0000"/><rect x="419" y="313" width="2" height="11" fill="#ff0000"/><rect x="422" y="314" width="1" height="15" fill="#008000"/><rect x="421" y="314" width="3" height="15" fill="#008000"/><rect x="422" y="315" width="1" height="13" fill="#fff"/><rect x="425" y="304" width="1" height="15" fill="#ff0000"/><rect x="424" y="314" width="2" height="4" fill="#ff0000"/><rect x="427" y="312" width="1" height="9" fill="#008000"/><rect x="426" y="312" width="2" height="9" fill="#008000"/><rect x="429" y="306" width="1" height="11" fill="#008000"/><rect x="428" y="307" width="2" height="9" fill="#008000"/><rect x="431" y="307" width="1" height="11" fill="#ff0000"/><rect x="430" y="310" width="3" height="5" fill="#ff0000"/><rect x="434" y="306" width="1" height="46" fill="#ff0000"/><rect x="433" y="307" width="2" height="43" fill="#ff0000"/><rect x="436" y="343" width="1" height="17" fill="#008000"/><rect x="435" y="344" width="2" height="9" fill="#008000"/><rect x="438" y="334" width="1" height="19" fill="#008000"/><rect x="437" y="334" width="3" height="11" fill="#008000"/><rect x="438" y="335" width="1" height="9" fill="#fff"/><rect x="441" y="331" width="1" height="10" fill="#ff0000"/><rect x="440" y="333" width="2" height="7" fill="#ff0000"/><rect x="443" y="334" width="1" height="12" fill="#008000"/><rect x="442" y="337" width="2" height="2" fill="#008000"/><rect x="445" y="329" width="1" height="16" fill="#ff0000"/><rect x="444" y="333" width="2" height="12" fill="#ff0000"/><rect x="447" y="338" width="1" height="16" fill="#008000"/><rect x="446" y="339" width="3" height="6" fill="#008000"/><rect x="447" y="340" width="1" height="4" fill="#fff"/><rect x="450" y="331" width="1" height="9" fill="#008000"/><rect x="449" y="336" width="2" height="4" fill="#008000"/><rect x="452" y="331" width="1" height="11" fill="#ff0000"/><rect x="451" y="336" width="2" height="5" fill="#ff0000"/><rect x="454" y="334" width="1" height="10" fill="#ff0000"/><rect x="453" y="338" width="3" height="5" fill="#ff0000"/><rect x="457" y="336" width="1" height="27" fill="#ff0000"/><rect x="456" y="337" width="2" height="25" fill="#ff0000"/><rect x="459" y="341" width="1" height="28" fill="#008000"/><rect x="458" y="342" width="2" height="25" fill="#008000"/><rect x="461" y="339" width="1" height="6" fill="#008000"/><rect x="460" y="339" width="2" height="3" fill="#008000"/><rect x="463" y="337" width="1" height="10" fill="#ff0000"/><rect x="462" y="339" width="3" height="3" fill="#ff0000"/><rect x="466" y="340" width="1" height="19" fill="#ff0000"/><rect x="465" y="342" width="2" height="16" fill="#ff0000"/><rect x="468" y="352" width="1" height="16" fill="#ff0000"/><rect x="467" y="353" width="2" height="14" fill="#ff0000"/><rect x="470" y="354" width="1" height="11" fill="#008000"/><rect x="469" y="355" width="3" height="8" fill="#008000"/><rect x="470" y="356" width="1" height="6" fill="#fff"/><rect x="473" y="344" width="1" height="12" fill="#008000"/><rect x="472" y="344" width="2" height="11" fill="#008000"/><rect x="475" y="340" width="1" height="7" fill="#008000"/><rect x="474" y="341" width="2" height="6" fill="#008000"/><rect x="477" y="336" width="1" height="9" fill="#008000"/><rect x="476" y="336" width="3" height="8" fill="#008000"/><rect x="477" y="337" width="1" height="6" fill="#fff"/><rect x="480" y="331" width="1" height="7" fill="#008000"/><rect x="479" y="334" width="2" height="3" fill="#008000"/><rect x="482" y="331" width="1" height="8" fill="#ff0000"/><rect x="481" y="334" width="2" height="5" fill="#ff0000"/><rect x="484" y="336" width="1" height="9" fill="#ff0000"/><rect x="483" y="338" width="2" height="7" fill="#ff0000"/><rect x="486" y="336" width="1" height="11" fill="#ff0000"/><rect x="485" y="344" width="3" height="3" fill="#ff0000"/><rect x="489" y="342" width="1" height="11" fill="#ff0000"/><rect x="488" y="344" width="2" height="3" fill="#ff0000"/><rect x="491" y="346" width="1" height="11" fill="#ff0000"/><rect x="490" y="347" width="2" height="4" fill="#ff0000"/><rect x="493" y="346" width="1" height="10" fill="#ff0000"/><rect x="492" y="347" width="3" height="8" fill="#ff0000"/><rect x="496" y="352" width="1" height="15" fill="#ff0000"/><rect x="495" y="355" width="2" height="11" fill="#ff0000"/><rect x="498" y="352" width="1" height="14" fill="#008000"/><rect x="497" y="352" width="2" height="14" fill="#008000"/><rect x="500" y="348" width="1" height="9" fill="#ff0000"/><rect x="499" y="351" width="2" height="5" fill="#ff0000"/><rect x="502" y="353" width="1" height="7" fill="#ff0000"/><rect x="501" y="354" width="3" height="5" fill="#ff0000"/><rect x="505" y="355" width="1" height="10" fill="#ff0000"/><rect x="504" y="357" width="2" height="7" fill="#ff0000"/><rect x="507" y="360" width="1" height="11" fill="#008000"/><rect x="506" y="361" width="2" height="3" fill="#008000"/><rect x="509" y="358" width="1" height="5" fill="#008000"/><rect x="508" y="358" width="3" height="4" fill="#008000"/><rect x="509" y="359" width="1" height="2" fill="#fff"/><rect x="512" y="350" width="1" height="10" fill="#008000"/><rect x="511" y="351" width="2" height="9" fill="#008000"/><rect x="514" y="345" width="1" height="12" fill="#ff0000"/><rect x="513" y="350" width="2" height="6" fill="#ff0000"/><rect x="516" y="353" width="1" height="8" fill="#ff0000"/><rect x="515" y="354" width="2" height="7" fill="#ff0000"/><rect x="518" y="360" width="1" height="15" fill="#ff0000"/><rect x="517" y="362" width="3" height="11" fill="#ff0000"/><rect x="521" y="362" width="1" height="10" fill="#ff0000"/><rect x="520" y="362" width="2" height="9" fill="#ff0000"/><rect x="523" y="367" width="1" height="18" fill="#ff0000"/><rect x="522" y="368" width="2" height="16" fill="#ff0000"/><rect x="525" y="379" width="1" height="10" fill="#ff0000"/><rect x="524" y="380" width="3" height="6" fill="#ff0000"/><rect x="528" y="369" width="1" height="22" fill="#008000"/><rect x="527" y="371" width="2" height="17" fill="#008000"/><rect x="530" y="367" width="1" height="11" fill="#ff0000"/><rect x="529" y="371" width="2" height="6" fill="#ff0000"/><rect x="532" y="374" width="1" height="6" fill="#008000"/><rect x="531" y="375" width="3" height="4" fill="#008000"/><rect x="532" y="376" width="1" height="2" fill="#fff"/><rect x="535" y="369" width="1" height="14" fill="#008000"/><rect x="534" y="375" width="2" height="2" fill="#008000"/><rect x="537" y="364" width="1" height="12" fill="#008000"/><rect x="536" y="365" width="2" height="11" fill="#008000"/><rect x="539" y="363" width="1" height="8" fill="#ff0000"/><rect x="538" y="365" width="2" height="5" fill="#ff0000"/><rect x="541" y="366" width="1" height="16" fill="#ff0000"/><rect x="540" y="366" width="3" height="13" fill="#ff0000"/><rect x="544" y="369" width="1" height="14" fill="#ff0000"/><rect x="543" y="369" width="2" height="14" fill="#ff0000"/><rect x="546" y="369" width="1" height="26" fill="#ff0000"/><rect x="545" y="384" width="2" height="3" fill="#ff0000"/><rect x="548" y="380" width="1" height="5" fill="#008000"/><rect x="547" y="381" width="3" height="4" fill="#008000"/><rect x="548" y="382" width="1" height="2" fill="#fff"/><rect x="551" y="380" width="1" height="10" fill="#ff0000"/><rect x="550" y="384" width="2" height="3" fill="#ff0000"/><rect x="553" y="381" width="1" height="12" fill="#ff0000"/><rect x="552" y="386" width="2" height="3" fill="#ff0000"/><rect x="555" y="382" width="1" height="13" fill="#ff0000"/><rect x="554" y="388" width="2" height="4" fill="#ff0000"/><rect x="557" y="389" width="1" height="9" fill="#ff0000"/><rect x="556" y="393" width="3" height="5" fill="#ff0000"/><rect x="121" y="417" width="2" height="47" fill="#ff0000"/><rect x="123" y="443" width="3" height="31" fill="#ff0000"/><rect x="124" y="451" width="1" height="12" fill="#fff"/><rect x="124" y="473" width="1" height="31" fill="#ff0000"/><rect x="126" y="473" width="3" height="45" fill="#ff0000"/><rect x="127" y="486" width="1" height="30" fill="#fff"/><rect x="128" y="497" width="2" height="48" fill="#ff0000"/><rect x="130" y="497" width="2" height="45" fill="#008000"/></g>
<g fill="#008000"><rect x="0" y="662" width="2" height="12"/><rect x="2" y="665" width="2" height="9"/><rect x="4" y="662" width="2" height="12"/><rect x="6" y="662" width="2" height="12"/><rect x="9" y="662" width="2" height="12"/><rect x="11" y="662" width="2" height="12"/><rect x="13" y="662" width="2" height="12"/><rect x="16" y="662" width="2" height="12"/><rect x="18" y="663" width="2" height="11"/><rect x="20" y="663" width="2" height="11"/><rect x="23" y="662" width="2" height="12"/><rect x="25" y="656" width="2" height="18"/><rect x="27" y="661" width="2" height="13"/><rect x="29" y="661" width="2" height="13"/><rect x="32" y="657" width="2" height="17"/><rect x="34" y="656" width="2" height="18"/><rect x="36" y="658" width="2" height="16"/><rect x="39" y="661" width="2" height="13"/><rect x="41" y="654" width="2" height="20"/><rect x="43" y="654" width="2" height="20"/><rect x="45" y="654" width="2" height="20"/><rect x="48" y="653" width="2" height="21"/><rect x="50" y="653" width="2" height="21"/><rect x="52" y="657" width="2" height="17"/><rect x="55" y="654" width="2" height="20"/><rect x="57" y="656" width="2" height="18"/><rect x="59" y="653" width="2" height="21"/><rect x="61" y="656" width="2" height="18"/><rect x="64" y="653" width="2" height="21"/><rect x="66" y="656" width="2" height="18"/><rect x="68" y="652" width="2" height="22"/><rect x="71" y="656" width="2" height="18"/><rect x="73" y="659" width="2" height="15"/><rect x="75" y="653" width="2" height="21"/><rect x="78" y="652" width="2" height="22"/><rect x="80" y="658" width="2" height="16"/><rect x="82" y="658" width="2" height="16"/><rect x="84" y="656" width="2" height="18"/><rect x="87" y="655" width="2" height="19"/><rect x="89" y="653" width="2" height="21"/><rect x="91" y="656" width="2" height="18"/><rect x="94" y="660" width="2" height="14"/><rect x="96" y="658" width="2" height="16"/><rect x="98" y="656" width="2" height="18"/><rect x="100" y="661" width="2" height="13"/><rect x="103" y="660" width="2" height="14"/><rect x="105" y="659" width="2" height="15"/><rect x="107" y="659" width="2" height="15"/><rect x="110" y="660" width="2" height="14"/><rect x="112" y="658" width="2" height="16"/><rect x="114" y="660" width="2" height="14"/><rect x="116" y="660" width="2" height="14"/><rect x="119" y="659" width="2" height="15"/><rect x="121" y="633" width="2" height="41"/><rect x="123" y="637" width="2" height="37"/><rect x="126" y="650" width="2" height="24"/><rect x="128" y="640" width="2" height="34"/><rect x="130" y="658" width="2" height="16"/><rect x="133" y="636" width="2" height="38"/><rect x="135" y="649" width="2" height="25"/><rect x="137" y="654" width="2" height="20"/><rect x="139" y="657" width="2" height="17"/><rect x="142" y="657" width="2" height="17"/><rect x="144" y="647" width="2" height="27"/><rect x="146" y="656" width="2" height="18"/><rect x="149" y="640" width="2" height="34"/><rect x="151" y="656" width="2" height="18"/><rect x="153" y="656" width="2" height="18"/><rect x="155" y="657" width="2" height="17"/><rect x="158" y="662" width="2" height="12"/><rect x="160" y="661" width="2" height="13"/><rect x="162" y="662" width="2" height="12"/><rect x="165" y="655" width="2" height="19"/><rect x="167" y="657" width="2" height="17"/><rect x="169" y="656" width="2" height="18"/><rect x="171" y="656" width="2" height="18"/><rect x="174" y="657" width="2" height="17"/><rect x="176" y="653" width="2" height="21"/><rect x="178" y="649" width="2" height="25"/><rect x="181" y="651" width="2" height="23"/><rect x="183" y="650" width="2" height="24"/><rect x="185" y="656" width="2" height="18"/><rect x="188" y="656" width="2" height="18"/><rect x="190" y="656" width="2" height="18"/><rect x="192" y="648" width="2" height="26"/><rect x="194" y="657" width="2" height="17"/><rect x="197" y="651" width="2" height="23"/><rect x="199" y="639" width="2" height="35"/><rect x="201" y="647" width="2" height="27"/><rect x="204" y="650" width="2" height="24"/><rect x="206" y="645" width="2" height="29"/><rect x="208" y="646" width="2" height="28"/><rect x="210" y="634" width="2" height="40"/><rect x="213" y="647" width="2" height="27"/><rect x="215" y="643" width="2" height="31"/><rect x="217" y="641" width="2" height="33"/><rect x="220" y="648" width="2" height="26"/><rect x="222" y="654" width="2" height="20"/><rect x="224" y="655" width="2" height="19"/><rect x="226" y="652" width="2" height="22"/><rect x="229" y="629" width="2" height="45"/><rect x="231" y="654" width="2" height="20"/><rect x="233" y="650" width="2" height="24"/><rect x="236" y="653" width="2" height="21"/><rect x="238" y="651" width="2" height="23"/><rect x="240" y="653" width="2" height="21"/><rect x="242" y="648" width="2" height="26"/><rect x="245" y="644" width="2" height="30"/><rect x="247" y="654" width="2" height="20"/><rect x="249" y="656" width="2" height="18"/><rect x="252" y="655" width="2" height="19"/><rect x="254" y="653" width="2" height="21"/><rect x="256" y="651" width="2" height="23"/><rect x="259" y="645" width="2" height="29"/><rect x="261" y="635" width="2" height="39"/><rect x="263" y="648" width="2" height="26"/><rect x="265" y="639" width="2" height="35"/><rect x="268" y="644" width="2" height="30"/><rect x="270" y="629" width="2" height="45"/><rect x="272" y="643" width="2" height="31"/><rect x="275" y="634" width="2" height="40"/><rect x="277" y="635" width="2" height="39"/><rect x="279" y="628" width="2" height="46"/><rect x="281" y="629" width="2" height="45"/><rect x="284" y="619" width="2" height="55"/><rect x="286" y="624" width="2" height="50"/><rect x="288" y="631" width="2" height="43"/><rect x="291" y="632" width="2" height="42"/><rect x="293" y="630" width="2" height="44"/><rect x="295" y="635" width="2" height="39"/><rect x="297" y="627" width="2" height="47"/><rect x="300" y="619" width="2" height="55"/><rect x="302" y="585" width="2" height="89"/><rect x="304" y="623" width="2" height="51"/><rect x="307" y="619" width="2" height="55"/><rect x="309" y="621" width="2" height="53"/><rect x="311" y="629" width="2" height="45"/><rect x="314" y="601" width="2" height="73"/><rect x="316" y="636" width="2" height="38"/><rect x="318" y="636" width="2" height="38"/><rect x="320" y="612" width="2" height="62"/><rect x="323" y="627" width="2" height="47"/><rect x="325" y="634" width="2" height="40"/><rect x="327" y="610" width="2" height="64"/><rect x="330" y="624" width="2" height="50"/><rect x="332" y="617" width="2" height="57"/><rect x="334" y="630" width="2" height="44"/><rect x="336" y="622" width="2" height="52"/><rect x="339" y="612" width="2" height="62"/><rect x="341" y="632" width="2" height="42"/><rect x="343" y="616" width="2" height="58"/><rect x="346" y="640" width="2" height="34"/><rect x="348" y="642" width="2" height="32"/><rect x="350" y="637" width="2" height="37"/><rect x="352" y="645" width="2" height="29"/><rect x="355" y="633" width="2" height="41"/><rect x="357" y="640" width="2" height="34"/><rect x="359" y="643" width="2" height="31"/><rect x="362" y="625" width="2" height="49"/><rect x="364" y="625" width="2" height="49"/><rect x="366" y="647" width="2" height="27"/><rect x="369" y="651" width="2" height="23"/><rect x="371" y="640" width="2" height="34"/><rect x="373" y="648" width="2" height="26"/><rect x="375" y="645" width="2" height="29"/><rect x="378" y="645" width="2" height="29"/><rect x="380" y="651" width="2" height="23"/><rect x="382" y="654" width="2" height="20"/><rect x="385" y="654" width="2" height="20"/><rect x="387" y="643" width="2" height="31"/><rect x="389" y="657" width="2" height="17"/><rect x="391" y="648" width="2" height="26"/><rect x="394" y="649" width="2" height="25"/><rect x="396" y="646" width="2" height="28"/><rect x="398" y="654" width="2" height="20"/><rect x="401" y="646" width="2" height="28"/><rect x="403" y="655" width="2" height="19"/><rect x="405" y="653" width="2" height="21"/><rect x="407" y="650" width="2" height="24"/><rect x="410" y="647" width="2" height="27"/><rect x="412" y="651" width="2" height="23"/><rect x="414" y="646" width="2" height="28"/><rect x="417" y="653" width="2" height="21"/><rect x="419" y="648" width="2" height="26"/><rect x="421" y="637" width="2" height="37"/><rect x="424" y="634" width="2" height="40"/><rect x="426" y="647" width="2" height="27"/><rect x="428" y="645" width="2" height="29"/><rect x="430" y="645" width="2" height="29"/><rect x="433" y="626" width="2" height="48"/><rect x="435" y="634" width="2" height="40"/><rect x="437" y="643" width="2" height="31"/><rect x="440" y="650" width="2" height="24"/><rect x="442" y="646" width="2" height="28"/><rect x="444" y="648" width="2" height="26"/><rect x="446" y="646" width="2" height="28"/><rect x="449" y="654" width="2" height="20"/><rect x="451" y="651" width="2" height="23"/><rect x="453" y="650" width="2" height="24"/><rect x="456" y="638" width="2" height="36"/><rect x="458" y="642" width="2" height="32"/><rect x="460" y="650" width="2" height="24"/><rect x="462" y="651" width="2" height="23"/><rect x="465" y="651" width="2" height="23"/><rect x="467" y="653" width="2" height="21"/><rect x="469" y="658" width="2" height="16"/><rect x="472" y="655" width="2" height="19"/><rect x="474" y="653" width="2" height="21"/><rect x="476" y="654" width="2" height="20"/><rect x="479" y="654" width="2" height="20"/><rect x="481" y="654" width="2" height="20"/><rect x="483" y="653" width="2" height="21"/><rect x="485" y="660" width="2" height="14"/><rect x="488" y="656" width="2" height="18"/><rect x="490" y="662" width="2" height="12"/><rect x="492" y="654" width="2" height="20"/><rect x="495" y="658" width="2" height="16"/><rect x="497" y="660" width="2" height="14"/><rect x="499" y="656" width="2" height="18"/><rect x="501" y="659" width="2" height="15"/><rect x="504" y="656" width="2" height="18"/><rect x="506" y="655" width="2" height="19"/><rect x="508" y="653" width="2" height="21"/><rect x="511" y="657" width="2" height="17"/><rect x="513" y="659" width="2" height="15"/><rect x="515" y="653" width="2" height="21"/><rect x="517" y="663" width="2" height="11"/><rect x="520" y="661" width="2" height="13"/><rect x="522" y="650" width="2" height="24"/><rect x="524" y="656" width="2" height="18"/><rect x="527" y="652" width="2" height="22"/><rect x="529" y="662" width="2" height="12"/><rect x="531" y="661" width="2" height="13"/><rect x="534" y="658" width="2" height="16"/><rect x="536" y="657" width="2" height="17"/><rect x="538" y="655" width="2" height="19"/><rect x="540" y="657" width="2" height="17"/><rect x="543" y="652" width="2" height="22"/><rect x="545" y="652" width="2" height="22"/><rect x="547" y="659" width="2" height="15"/><rect x="550" y="663" width="2" height="11"/><rect x="552" y="659" width="2" height="15"/><rect x="554" y="651" width="2" height="23"/><rect x="556" y="662" width="2" height="12"/></g>
<polyline points="0,661.3 16.7,661.3 18.3,662.4 25.5,662.4 27,661.3 42.2,661.3 43.8,660.2 49,660.2 51,659.2 56,658.9 58.1,658.1 60.5,657.3 67,657.3 68.5,656.2 75.5,656.2 77.2,655.3 99.8,655.4 101.4,656.5 107.7,656.5 109.3,657.3 121.3,657.3 122.9,656.5 126.8,656 129.2,654.9 133.2,654.9 135.6,653.7 137.2,653 147.5,653 149.9,651.7 151.5,651.3 165.9,651.3 168.2,652.5 171.4,654.1 176.2,654.5 178.6,655.4 190,655.7 199.6,655.4 204.3,653.8 210.7,651.7 217.1,649.7 221.8,648.2 224.2,649.4 229.8,648.9 235.4,647.5 245.7,647.5 253.7,648.2 256.9,650.2 266.4,650.2 271.2,647.8 278.4,647.3 283.9,643.8 291.4,639.8 299.3,636.3 305.7,629.8 310.5,628.3 316,625.5 321.6,625 326.4,623.1 332.8,623.1 336,622 340.7,621.5 346.3,621.2 349.5,625 353.5,626.7 357.5,627.5 360.6,629.5 364.6,629.5 368.6,631.4 371.8,631.4 376.6,635 381.3,637.7 384.8,640.9 388,641.4 391.1,644.1 397.5,644.3 403.1,645.7 408.7,648.6 415,649.4 421.4,650.2 427.8,648.6 434.1,648.1 438.9,645.4 456.4,645.4 459.6,644.1 466,644.1 470.8,647.3 477.5,647.8 479.8,650.2 484.6,650.5 486.9,652.2 490.9,652.5 493.3,653.3 498.1,653.7 501.3,655.4 505.3,655.7 506.8,656.5 517.2,656.5 519.6,657.3 557.8,657.3" fill="none" stroke="#ff0000" stroke-width="2"/>
<g fill="#000"><rect x="579" y="0" width="1" height="118"/><rect x="579" y="122" width="1" height="118"/><rect x="579" y="244" width="1" height="330"/><rect x="579" y="578" width="1" height="96"/><rect x="580" y="3" width="8" height="1"/><rect x="580" y="14" width="3" height="1"/><rect x="580" y="25" width="3" height="1"/><rect x="580" y="37" width="3" height="1"/><rect x="580" y="48" width="3" height="1"/><rect x="580" y="59" width="8" height="1"/><rect x="580" y="70" width="3" height="1"/><rect x="580" y="82" width="3" height="1"/><rect x="580" y="93" width="3" height="1"/><rect x="580" y="104" width="3" height="1"/><rect x="580" y="115" width="8" height="1"/><rect x="580" y="237" width="3" height="1"/><rect x="580" y="232" width="3" height="1"/><rect x="580" y="226" width="3" height="1"/><rect x="580" y="221" width="3" height="1"/><rect x="580" y="215" width="8" height="1"/><rect x="580" y="210" width="3" height="1"/><rect x="580" y="204" width="3" height="1"/><rect x="580" y="199" width="3" height="1"/><rect x="580" y="193" width="3" height="1"/><rect x="580" y="188" width="8" height="1"/><rect x="580" y="182" width="3" height="1"/><rect x="580" y="177" width="3" height="1"/><rect x="580" y="171" width="3" height="1"/><rect x="580" y="166" width="3" height="1"/><rect x="580" y="160" width="8" height="1"/><rect x="580" y="155" width="3" height="1"/><rect x="580" y="149" width="3" height="1"/><rect x="580" y="144" width="3" height="1"/><rect x="580" y="138" width="3" height="1"/><rect x="580" y="133" width="8" height="1"/><rect x="580" y="127" width="3" height="1"/><rect x="580" y="122" width="3" height="1"/><rect x="580" y="573" width="8" height="1"/><rect x="580" y="571" width="3" height="1"/><rect x="580" y="568" width="3" height="1"/><rect x="580" y="565" width="3" height="1"/><rect x="580" y="563" width="3" height="1"/><rect x="580" y="560" width="8" height="1"/><rect x="580" y="557" width="3" height="1"/><rect x="580" y="554" width="3" height="1"/><rect x="580" y="552" width="3" height="1"/><rect x="580" y="549" width="3" height="1"/><rect x="580" y="546" width="8" height="1"/><rect x="580" y="544" width="3" height="1"/><rect x="580" y="541" width="3" height="1"/><rect x="580" y="538" width="3" height="1"/><rect x="580" y="536" width="3" height="1"/><rect x="580" y="533" width="8" height="1"/><rect x="580" y="530" width="3" height="1"/><rect x="580" y="527" width="3" height="1"/><rect x="580" y="525" width="3" height="1"/><rect x="580" y="522" width="3" height="1"/><rect x="580" y="519" width="8" height="1"/><rect x="580" y="517" width="3" height="1"/><rect x="580" y="514" width="3" height="1"/><rect x="580" y="511" width="3" height="1"/><rect x="580" y="509" width="3" height="1"/><rect x="580" y="506" width="8" height="1"/><rect x="580" y="503" width="3" height="1"/><rect x="580" y="501" width="3" height="1"/><rect x="580" y="498" width="3" height="1"/><rect x="580" y="495" width="3" height="1"/><rect x="580" y="492" width="8" height="1"/><rect x="580" y="490" width="3" height="1"/><rect x="580" y="487" width="3" height="1"/><rect x="580" y="484" width="3" height="1"/><rect x="580" y="482" width="3" height="1"/><rect x="580" y="479" width="8" height="1"/><rect x="580" y="476" width="3" height="1"/><rect x="580" y="474" width="3" height="1"/><rect x="580" y="471" width="3" height="1"/><rect x="580" y="468" width="3" height="1"/><rect x="580" y="465" width="8" height="1"/><rect x="580" y="463" width="3" height="1"/><rect x="580" y="460" width="3" height="1"/><rect x="580" y="457" width="3" height="1"/><rect x="580" y="455" width="3" height="1"/><rect x="580" y="452" width="8" height="1"/><rect x="580" y="449" width="3" height="1"/><rect x="580" y="447" width="3" height="1"/><rect x="580" y="444" width="3" height="1"/><rect x="580" y="441" width="3" height="1"/><rect x="580" y="439" width="8" height="1"/><rect x="580" y="436" width="3" height="1"/><rect x="580" y="433" width="3" height="1"/><rect x="580" y="430" width="3" height="1"/><rect x="580" y="428" width="3" height="1"/><rect x="580" y="425" width="8" height="1"/><rect x="580" y="422" width="3" height="1"/><rect x="580" y="420" width="3" height="1"/><rect x="580" y="417" width="3" height="1"/><rect x="580" y="414" width="3" height="1"/><rect x="580" y="412" width="8" height="1"/><rect x="580" y="409" width="3" height="1"/><rect x="580" y="406" width="3" height="1"/><rect x="580" y="403" width="3" height="1"/><rect x="580" y="401" width="3" height="1"/><rect x="580" y="398" width="8" height="1"/><rect x="580" y="395" width="3" height="1"/><rect x="580" y="393" width="3" height="1"/><rect x="580" y="390" width="3" height="1"/><rect x="580" y="387" width="3" height="1"/><rect x="580" y="385" width="8" height="1"/><rect x="580" y="382" width="3" height="1"/><rect x="580" y="379" width="3" height="1"/><rect x="580" y="377" width="3" height="1"/><rect x="580" y="374" width="3" height="1"/><rect x="580" y="371" width="8" height="1"/><rect x="580" y="368" width="3" height="1"/><rect x="580" y="366" width="3" height="1"/><rect x="580" y="363" width="3" height="1"/><rect x="580" y="360" width="3" height="1"/><rect x="580" y="358" width="8" height="1"/><rect x="580" y="355" width="3" height="1"/><rect x="580" y="352" width="3" height="1"/><rect x="580" y="350" width="3" height="1"/><rect x="580" y="347" width="3" height="1"/><rect x="580" y="344" width="8" height="1"/><rect x="580" y="341" width="3" height="1"/><rect x="580" y="339" width="3" height="1"/><rect x="580" y="336" width="3" height="1"/><rect x="580" y="333" width="3" height="1"/><rect x="580" y="331" width="8" height="1"/><rect x="580" y="328" width="3" height="1"/><rect x="580" y="325" width="3" height="1"/><rect x="580" y="323" width="3" height="1"/><rect x="580" y="320" width="3" height="1"/><rect x="580" y="317" width="8" height="1"/><rect x="580" y="315" width="3" height="1"/><rect x="580" y="312" width="3" height="1"/><rect x="580" y="309" width="3" height="1"/><rect x="580" y="306" width="3" height="1"/><rect x="580" y="304" width="8" height="1"/><rect x="580" y="301" width="3" height="1"/><rect x="580" y="298" width="3" height="1"/><rect x="580" y="296" width="3" height="1"/><rect x="580" y="293" width="3" height="1"/><rect x="580" y="290" width="8" height="1"/><rect x="580" y="288" width="3" height="1"/><rect x="580" y="285" width="3" height="1"/><rect x="580" y="282" width="3" height="1"/><rect x="580" y="279" width="3" height="1"/><rect x="580" y="277" width="8" height="1"/><rect x="580" y="274" width="3" height="1"/><rect x="580" y="271" width="3" height="1"/><rect x="580" y="269" width="3" height="1"/><rect x="580" y="266" width="3" height="1"/><rect x="580" y="263" width="8" height="1"/><rect x="580" y="261" width="3" height="1"/><rect x="580" y="258" width="3" height="1"/><rect x="580" y="255" width="3" height="1"/><rect x="580" y="252" width="3" height="1"/><rect x="580" y="250" width="8" height="1"/><rect x="580" y="247" width="3" height="1"/><rect x="580" y="244" width="3" height="1"/><rect x="580" y="673" width="8" height="1"/><rect x="580" y="670" width="3" height="1"/><rect x="580" y="667" width="3" height="1"/><rect x="580" y="665" width="3" height="1"/><rect x="580" y="662" width="3" height="1"/><rect x="580" y="659" width="8" height="1"/><rect x="580" y="656" width="3" height="1"/><rect x="580" y="653" width="3" height="1"/><rect x="580" y="651" width="3" height="1"/><rect x="580" y="648" width="3" height="1"/><rect x="580" y="645" width="8" height="1"/><rect x="580" y="642" width="3" height="1"/><rect x="580" y="639" width="3" height="1"/><rect x="580" y="637" width="3" height="1"/><rect x="580" y="634" width="3" height="1"/><rect x="580" y="631" width="8" height="1"/><rect x="580" y="628" width="3" height="1"/><rect x="580" y="625" width="3" height="1"/><rect x="580" y="623" width="3" height="1"/><rect x="580" y="620" width="3" height="1"/><rect x="580" y="617" width="8" height="1"/><rect x="580" y="614" width="3" height="1"/><rect x="580" y="611" width="3" height="1"/><rect x="580" y="609" width="3" height="1"/><rect x="580" y="606" width="3" height="1"/><rect x="580" y="603" width="8" height="1"/><rect x="580" y="600" width="3" height="1"/><rect x="580" y="597" width="3" height="1"/><rect x="580" y="595" width="3" height="1"/><rect x="580" y="592" width="3" height="1"/><rect x="580" y="589" width="8" height="1"/><rect x="580" y="586" width="3" height="1"/><rect x="580" y="583" width="3" height="1"/><rect x="580" y="581" width="3" height="1"/><rect x="580" y="578" width="3" height="1"/></g>
<g fill="#000" stroke="#000" stroke-width="0.25"><text x="626.3" y="9" text-anchor="end" font-size="12" letter-spacing="0.33">100</text><text x="626.3" y="65" text-anchor="end" font-size="12" letter-spacing="0.33">50</text><text x="626.3" y="221" text-anchor="end" font-size="12" letter-spacing="0.33">-5</text><text x="626.3" y="194" text-anchor="end" font-size="12" letter-spacing="0.33">0</text><text x="626.3" y="166" text-anchor="end" font-size="12" letter-spacing="0.33">5</text><text x="626.3" y="139" text-anchor="end" font-size="12" letter-spacing="0.33">10</text><text x="626.3" y="566" text-anchor="end" font-size="12" letter-spacing="0.33">185</text><text x="626.3" y="552" text-anchor="end" font-size="12" letter-spacing="0.33">190</text><text x="626.3" y="539" text-anchor="end" font-size="12" letter-spacing="0.33">195</text><text x="626.3" y="525" text-anchor="end" font-size="12" letter-spacing="0.33">200</text><text x="626.3" y="512" text-anchor="end" font-size="12" letter-spacing="0.33">205</text><text x="626.3" y="498" text-anchor="end" font-size="12" letter-spacing="0.33">210</text><text x="626.3" y="485" text-anchor="end" font-size="12" letter-spacing="0.33">215</text><text x="626.3" y="471" text-anchor="end" font-size="12" letter-spacing="0.33">220</text><text x="626.3" y="458" text-anchor="end" font-size="12" letter-spacing="0.33">225</text><text x="626.3" y="445" text-anchor="end" font-size="12" letter-spacing="0.33">230</text><text x="626.3" y="431" text-anchor="end" font-size="12" letter-spacing="0.33">235</text><text x="626.3" y="418" text-anchor="end" font-size="12" letter-spacing="0.33">240</text><text x="626.3" y="404" text-anchor="end" font-size="12" letter-spacing="0.33">245</text><text x="626.3" y="391" text-anchor="end" font-size="12" letter-spacing="0.33">250</text><text x="626.3" y="377" text-anchor="end" font-size="12" letter-spacing="0.33">255</text><text x="626.3" y="364" text-anchor="end" font-size="12" letter-spacing="0.33">260</text><text x="626.3" y="350" text-anchor="end" font-size="12" letter-spacing="0.33">265</text><text x="626.3" y="337" text-anchor="end" font-size="12" letter-spacing="0.33">270</text><text x="626.3" y="323" text-anchor="end" font-size="12" letter-spacing="0.33">275</text><text x="626.3" y="310" text-anchor="end" font-size="12" letter-spacing="0.33">280</text><text x="626.3" y="296" text-anchor="end" font-size="12" letter-spacing="0.33">285</text><text x="626.3" y="283" text-anchor="end" font-size="12" letter-spacing="0.33">290</text><text x="626.3" y="269" text-anchor="end" font-size="12" letter-spacing="0.33">295</text><text x="626.3" y="665" text-anchor="end" font-size="12" letter-spacing="0.33">5000</text><text x="626.3" y="651" text-anchor="end" font-size="12" letter-spacing="0.33">10000</text><text x="626.3" y="637" text-anchor="end" font-size="12" letter-spacing="0.33">15000</text><text x="626.3" y="623" text-anchor="end" font-size="12" letter-spacing="0.33">20000</text><text x="626.3" y="609" text-anchor="end" font-size="12" letter-spacing="0.33">25000</text><text x="626.3" y="595" text-anchor="end" font-size="12" letter-spacing="0.33">30000</text></g>
<rect x="0" y="119" width="628" height="1" fill="#f2f2f2"/>
<rect x="0" y="120" width="628" height="1" fill="#a0a0a0"/>
<rect x="0" y="121" width="628" height="1" fill="#696969"/>
<rect x="0" y="241" width="628" height="1" fill="#f2f2f2"/>
<rect x="0" y="242" width="628" height="1" fill="#a0a0a0"/>
<rect x="0" y="243" width="628" height="1" fill="#696969"/>
<rect x="0" y="575" width="628" height="1" fill="#f2f2f2"/>
<rect x="0" y="576" width="628" height="1" fill="#a0a0a0"/>
<rect x="0" y="577" width="628" height="1" fill="#696969"/>
<g fill="#000"><rect x="0" y="674" width="579" height="1"/><rect x="1" y="675" width="1" height="4"/><rect x="12" y="675" width="1" height="4"/><rect x="35" y="675" width="1" height="4"/><rect x="46" y="675" width="1" height="4"/><rect x="58" y="675" width="1" height="4"/><rect x="81" y="675" width="1" height="4"/><rect x="92" y="675" width="1" height="4"/><rect x="104" y="675" width="1" height="4"/><rect x="115" y="675" width="1" height="4"/><rect x="127" y="675" width="1" height="4"/><rect x="136" y="675" width="1" height="4"/><rect x="147" y="675" width="1" height="4"/><rect x="159" y="675" width="1" height="4"/><rect x="175" y="675" width="1" height="4"/><rect x="186" y="675" width="1" height="4"/><rect x="198" y="675" width="1" height="4"/><rect x="221" y="675" width="1" height="4"/><rect x="232" y="675" width="1" height="4"/><rect x="243" y="675" width="1" height="4"/><rect x="255" y="675" width="1" height="4"/><rect x="266" y="675" width="1" height="4"/><rect x="278" y="675" width="1" height="4"/><rect x="289" y="675" width="1" height="4"/><rect x="301" y="675" width="1" height="4"/><rect x="309" y="675" width="1" height="4"/><rect x="324" y="675" width="1" height="4"/><rect x="335" y="675" width="1" height="4"/><rect x="347" y="675" width="1" height="4"/><rect x="365" y="675" width="1" height="4"/><rect x="376" y="675" width="1" height="4"/><rect x="388" y="675" width="1" height="4"/><rect x="400" y="675" width="1" height="4"/><rect x="411" y="675" width="1" height="4"/><rect x="422" y="675" width="1" height="4"/><rect x="434" y="675" width="1" height="4"/><rect x="445" y="675" width="1" height="4"/><rect x="468" y="675" width="1" height="4"/><rect x="479" y="675" width="1" height="4"/><rect x="491" y="675" width="1" height="4"/><rect x="514" y="675" width="1" height="4"/><rect x="525" y="675" width="1" height="4"/><rect x="537" y="675" width="1" height="4"/><rect x="548" y="675" width="1" height="4"/><rect x="567" y="675" width="1" height="4"/><rect x="578" y="675" width="1" height="4"/><rect x="24" y="675" width="1" height="18"/><rect x="69" y="675" width="1" height="18"/><rect x="117" y="675" width="1" height="18"/><rect x="163" y="675" width="1" height="18"/><rect x="209" y="675" width="1" height="18"/><rect x="257" y="675" width="1" height="18"/><rect x="311" y="675" width="1" height="18"/><rect x="358" y="675" width="1" height="18"/><rect x="404" y="675" width="1" height="18"/><rect x="457" y="675" width="1" height="18"/><rect x="502" y="675" width="1" height="18"/><rect x="555" y="675" width="1" height="18"/></g>
<g fill="#000" font-size="12" stroke="#000" stroke-width="0.25">
<text x="14.3" y="691" text-anchor="end" letter-spacing="0.33">2025</text>
<text x="26" y="691" clip-path="url(#cb)" letter-spacing="-0.2">Feb</text>
<text x="71" y="691" clip-path="url(#cb)" letter-spacing="-0.2">Mar</text>
<text x="119" y="691" clip-path="url(#cb)" letter-spacing="-0.2">Apr</text>
<text x="165" y="691" clip-path="url(#cb)" letter-spacing="-0.2">May</text>
<text x="211" y="691" clip-path="url(#cb)" letter-spacing="-0.2">Jun</text>
<text x="259" y="691" clip-path="url(#cb)" letter-spacing="-0.2">Jul</text>
<text x="313" y="691" clip-path="url(#cb)" letter-spacing="-0.2">Aug</text>
<text x="360" y="691" clip-path="url(#cb)" letter-spacing="-0.2">Sep</text>
<text x="406" y="691" clip-path="url(#cb)" letter-spacing="-0.2">Oct</text>
<text x="459" y="691" clip-path="url(#cb)" letter-spacing="-0.2">Nov</text>
<text x="504" y="691" clip-path="url(#cb)" letter-spacing="-0.2">Dec</text>
<text x="557" y="691" clip-path="url(#cb)" letter-spacing="0.33">2026</text>
</g>
<rect x="580" y="675" width="48" height="18" fill="#f8f8f8"/><rect x="581" y="676" width="47" height="17" fill="#f0f0f0"/>
<rect x="581" y="661" width="34" height="13" fill="#fff"/>
<rect x="581" y="661" width="34" height="1" fill="#000"/><rect x="581" y="661" width="1" height="13" fill="#000"/><rect x="614" y="661" width="1" height="13" fill="#000"/>
<text x="583" y="670.5" font-size="9" fill="#000">x10000</text></svg></body></html>
